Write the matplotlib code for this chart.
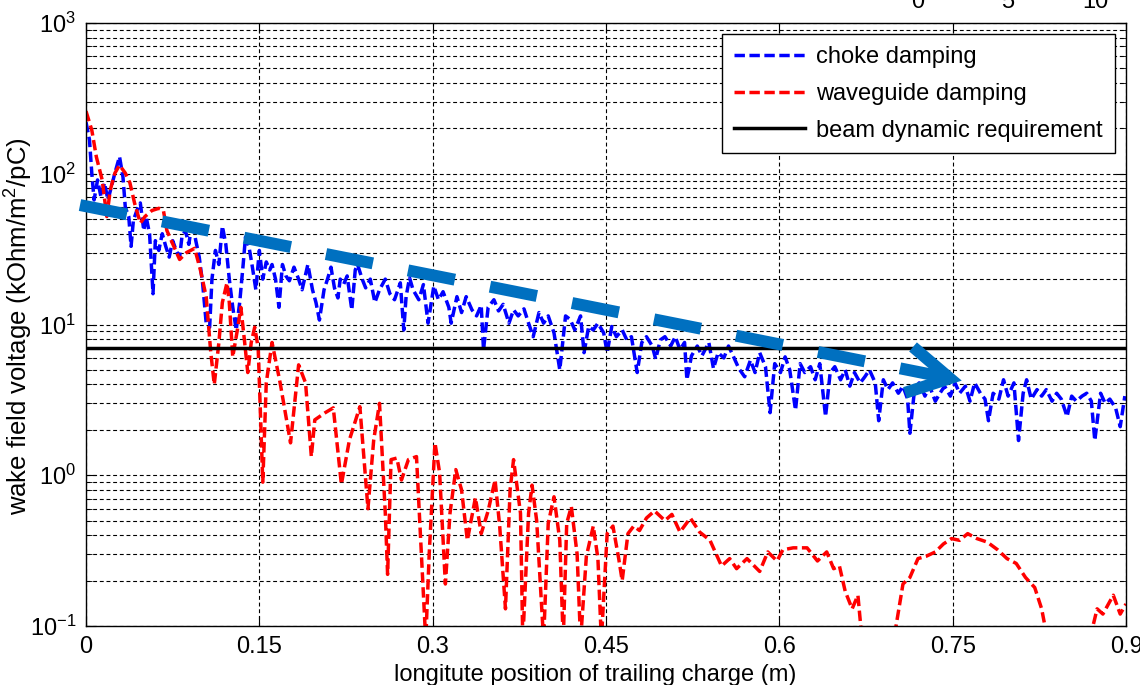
import matplotlib
matplotlib.use("Agg")
import matplotlib.pyplot as plt
from matplotlib.ticker import FixedLocator, LogLocator, NullFormatter

plt.rcParams['font.family'] = ['Liberation Sans', 'DejaVu Sans']
plt.rcParams['mathtext.fontset'] = 'custom'
plt.rcParams['mathtext.rm'] = 'Liberation Sans'
plt.rcParams['axes.unicode_minus'] = False

# choke damping (blue)
x_choke = [0.000, 0.003, 0.005, 0.007, 0.010, 0.013, 0.016, 0.019, 0.022, 0.025,
           0.029, 0.032, 0.034, 0.037, 0.039, 0.041, 0.044, 0.047, 0.050, 0.052,
           0.055, 0.058, 0.060, 0.063, 0.066, 0.069, 0.072, 0.075, 0.078, 0.081,
           0.083, 0.086, 0.089, 0.092, 0.095, 0.098, 0.101, 0.104, 0.107, 0.109,
           0.112, 0.115, 0.118, 0.121, 0.124, 0.127, 0.130, 0.133, 0.136, 0.138,
           0.141, 0.144, 0.147, 0.150, 0.153, 0.156, 0.159, 0.161, 0.164, 0.167,
           0.170, 0.173, 0.176, 0.180, 0.184, 0.187, 0.192, 0.196, 0.199, 0.202,
           0.206, 0.209, 0.212, 0.215, 0.218, 0.220, 0.223, 0.226, 0.230, 0.233,
           0.235, 0.239, 0.242, 0.246, 0.250, 0.254, 0.259, 0.263, 0.267, 0.272,
           0.275, 0.277, 0.280, 0.283, 0.288, 0.292, 0.296, 0.301, 0.305, 0.309,
           0.314, 0.316, 0.321, 0.325, 0.329, 0.334, 0.338, 0.342, 0.344, 0.348,
           0.353, 0.357, 0.361, 0.366, 0.370, 0.374, 0.379, 0.383, 0.387, 0.392,
           0.396, 0.400, 0.405, 0.410, 0.415, 0.419, 0.423, 0.428, 0.431, 0.435,
           0.439, 0.443, 0.448, 0.451, 0.455, 0.459, 0.464, 0.468, 0.472, 0.477,
           0.481, 0.485, 0.490, 0.493, 0.497, 0.501, 0.506, 0.510, 0.514, 0.518,
           0.520, 0.524, 0.529, 0.533, 0.539, 0.543, 0.547, 0.552, 0.556, 0.560,
           0.565, 0.570, 0.575, 0.579, 0.583, 0.588, 0.592, 0.596, 0.601, 0.605,
           0.609, 0.614, 0.618, 0.622, 0.627, 0.631, 0.635, 0.640, 0.644, 0.648,
           0.653, 0.657, 0.661, 0.665, 0.670, 0.674, 0.678, 0.683, 0.686, 0.690,
           0.694, 0.698, 0.703, 0.707, 0.711, 0.713, 0.717, 0.721, 0.726, 0.730,
           0.735, 0.739, 0.743, 0.748, 0.752, 0.756, 0.761, 0.765, 0.769, 0.774,
           0.778, 0.781, 0.785, 0.790, 0.794, 0.798, 0.803, 0.807, 0.811, 0.814,
           0.818, 0.823, 0.827, 0.831, 0.836, 0.840, 0.844, 0.849, 0.853, 0.857,
           0.862, 0.866, 0.870, 0.873, 0.878, 0.882, 0.886, 0.891, 0.895, 0.899]
y_choke = [220, 168, 101, 67, 91, 70, 87, 67, 82, 101,
           130, 95, 60, 52, 33, 49, 57, 64, 42, 52,
           40, 16, 36, 31, 40, 33, 28, 36, 31, 28,
           38, 42, 34, 49, 36, 28, 18.5, 10.2, 9.6, 20,
           31, 25, 45, 34, 20, 13, 9.2, 14, 25, 38,
           33, 24, 17, 31, 20, 26, 23, 25, 20, 13,
           25, 21, 19.5, 24, 20, 17, 25, 17, 14, 10.7,
           17, 20, 24, 17.5, 15, 20, 18.5, 21, 12.5, 23,
           25, 20, 17.5, 20, 14, 17, 20, 16, 14.6, 18.9,
           9.2, 15.3, 20.4, 17, 14.6, 18.4, 10.2, 18, 14.6, 16.5,
           13, 10.2, 15.3, 12, 15.3, 12.5, 11.4, 13.4, 6.8, 13,
           14.6, 12.3, 13.6, 10.2, 12.5, 11.4, 12.7, 10.2, 8.3, 12,
           10.2, 11.4, 8.8, 5.0, 11.4, 10.8, 9.2, 11.4, 6.5, 9.7,
           9.2, 10.2, 8.8, 6.5, 9.7, 8.3, 9.2, 7.9, 8.3, 4.8,
           7.6, 8.3, 7.2, 5.9, 7.9, 8.3, 7.2, 8.3, 6.8, 7.6,
           4.3, 6.2, 7.2, 6.2, 7.6, 5.1, 6.5, 6.0, 7.2, 6.2,
           5.1, 4.5, 5.8, 4.8, 6.5, 5.25, 2.6, 5.5, 4.8, 6.1,
           5.0, 2.7, 5.5, 4.8, 5.25, 4.3, 5.5, 2.45, 4.8, 5.25,
           4.3, 5.0, 3.9, 4.8, 4.1, 4.5, 5.0, 4.1, 2.3, 4.3,
           3.7, 4.1, 3.5, 3.9, 3.2, 1.9, 3.7, 4.1, 3.35, 3.9,
           3.1, 3.5, 3.9, 3.35, 4.1, 3.5, 3.9, 3.1, 4.1, 3.5,
           3.2, 2.3, 3.5, 3.2, 4.3, 3.35, 4.1, 1.7, 3.5, 4.3,
           3.2, 3.7, 3.35, 3.7, 3.1, 3.5, 3.2, 2.45, 3.35, 3.1,
           3.35, 3.5, 3.1, 1.7, 3.5, 3.0, 3.2, 2.8, 2.1, 3.35]

# waveguide damping (red)
x_wg = [0.000, 0.005, 0.009, 0.014, 0.018, 0.021, 0.025, 0.029, 0.034, 0.038,
        0.042, 0.047, 0.051, 0.057, 0.063, 0.067, 0.070, 0.076, 0.081, 0.087,
        0.094, 0.099, 0.104, 0.108, 0.111, 0.115, 0.118, 0.122, 0.124, 0.127,
        0.131, 0.134, 0.137, 0.140, 0.143, 0.146, 0.149, 0.153, 0.156, 0.161,
        0.168, 0.177, 0.184, 0.190, 0.195, 0.198, 0.207, 0.214, 0.221, 0.228,
        0.237, 0.244, 0.249, 0.254, 0.259, 0.261, 0.264, 0.269, 0.273, 0.279,
        0.286, 0.291, 0.294, 0.297, 0.302, 0.306, 0.311, 0.315, 0.320, 0.325,
        0.330, 0.337, 0.342, 0.348, 0.354, 0.358, 0.363, 0.367, 0.370, 0.376,
        0.378, 0.383, 0.386, 0.390, 0.396, 0.400, 0.405, 0.410, 0.413, 0.416,
        0.420, 0.425, 0.428, 0.433, 0.439, 0.443, 0.446, 0.451, 0.456, 0.461,
        0.464, 0.469, 0.474, 0.479, 0.485, 0.492, 0.501, 0.507, 0.514, 0.523,
        0.531, 0.540, 0.550, 0.557, 0.563, 0.572, 0.583, 0.590, 0.598, 0.603,
        0.612, 0.624, 0.633, 0.641, 0.647, 0.652, 0.657, 0.663, 0.668, 0.671,
        0.685, 0.700, 0.707, 0.713, 0.720, 0.727, 0.735, 0.742, 0.749, 0.756,
        0.763, 0.771, 0.780, 0.789, 0.797, 0.805, 0.813, 0.821, 0.827, 0.831,
        0.850, 0.870, 0.875, 0.880, 0.889, 0.895, 0.900]
y_wg = [260, 195, 129, 91, 52, 78, 101, 114, 101, 87,
        64, 47, 52, 57, 59, 57, 42, 33, 27, 30,
        32, 23, 15.3, 6.5, 4.0, 7.6, 14, 18.9, 14, 6.1,
        9.2, 13, 8.0, 4.8, 7.6, 9.6, 7.0, 0.9, 4.1, 7.6,
        4.1, 1.64, 5.4, 4.1, 1.33, 2.33, 2.6, 2.8, 0.87, 1.72,
        2.85, 0.6, 1.72, 3.0, 0.56, 0.22, 1.27, 1.3, 0.93, 1.27,
        1.33, 0.23, 0.08, 0.30, 1.64, 1.04, 0.19, 0.56, 1.09, 0.80,
        0.37, 0.71, 0.41, 0.58, 0.93, 0.46, 0.13, 0.80, 1.27, 0.56,
        0.08, 0.56, 0.86, 0.50, 0.08, 0.48, 0.72, 0.37, 0.08, 0.48,
        0.62, 0.30, 0.08, 0.29, 0.46, 0.28, 0.08, 0.41, 0.46, 0.28,
        0.20, 0.41, 0.46, 0.43, 0.52, 0.58, 0.50, 0.55, 0.42, 0.52,
        0.42, 0.37, 0.25, 0.28, 0.24, 0.28, 0.23, 0.31, 0.27, 0.32,
        0.33, 0.33, 0.27, 0.31, 0.24, 0.25, 0.17, 0.13, 0.16, 0.09,
        0.05, 0.09, 0.19, 0.21, 0.28, 0.29, 0.31, 0.35, 0.38, 0.37,
        0.41, 0.38, 0.36, 0.32, 0.28, 0.26, 0.21, 0.18, 0.13, 0.09,
        0.05, 0.09, 0.13, 0.12, 0.16, 0.12, 0.14]

beam_req = 7.0

x_ticks = [0, 0.15, 0.3, 0.45, 0.6, 0.75, 0.9]
x_ticklabels = ["0", "0.15", "0.3", "0.45", "0.6", "0.75", "0.9"]
labels = ["choke damping", "waveguide damping", "beam dynamic requirement"]
top_labels = ["0", "5", "10"]

# hand-drawn trend arrow (data coords)
arrow_start = (-0.0052, 62.0)
arrow_end = (0.7475, 4.4)
arrow_head = [(0.7157, 7.1), (0.7475, 4.4), (0.7087, 3.52)]
arrow_color = "#0070C0"

fig = plt.figure(figsize=(11.4, 6.85), dpi=100)
ax = fig.add_axes([86 / 1140, 1 - 626 / 685, 1040 / 1140, 603 / 685])

dash = dict(dashes=(3.0, 1.3), lw=2.5, dash_capstyle='butt')
ax.plot(x_choke, y_choke, color='blue', label=labels[0], **dash)
ax.plot(x_wg, y_wg, color='red', label=labels[1], **dash)
ax.axhline(beam_req, color='black', lw=2.5, label=labels[2])

ax.set_yscale('log')
ax.set_xlim(0, 0.9)
ax.set_ylim(0.1, 1000)
ax.xaxis.set_major_locator(FixedLocator(x_ticks))
ax.set_xticklabels(x_ticklabels)
ax.yaxis.set_major_locator(LogLocator(base=10))
ax.yaxis.set_minor_locator(LogLocator(base=10, subs=range(2, 10)))
ax.yaxis.set_minor_formatter(NullFormatter())

ax.grid(True, which='both', axis='y', color='black', lw=0.8, linestyle=(0, (3.5, 2.5)))
ax.grid(True, which='major', axis='x', color='black', lw=0.8, linestyle=(0, (3.5, 2.5)))
ax.tick_params(which='both', direction='in', top=True, right=True, labelsize=17, pad=7)
ax.tick_params(which='major', length=7)
ax.tick_params(which='minor', length=4)
for s in ax.spines.values():
    s.set_linewidth(1.0)

fig.text(595 / 1140, 1 - 664 / 685, "longitute position of trailing charge (m)",
         fontsize=17, ha='center', va='top')
fig.text(18 / 1140, 1 - 326 / 685, "wake field voltage (kOhm/m$^2$/pC)",
         fontsize=18.5, ha='center', va='center', rotation=90)

leg = ax.legend(loc='upper right', fontsize=17, fancybox=False, framealpha=1,
                edgecolor='black', handlelength=3.0, handletextpad=0.5,
                labelspacing=0.63, borderpad=0.5, borderaxespad=0.47)
leg.get_frame().set_linewidth(1.0)

# trend arrow overlay
ax.plot([arrow_start[0], arrow_end[0]], [arrow_start[1], arrow_end[1]],
        color=arrow_color, lw=8.6, dashes=(4.0, 3.0), dash_capstyle='butt',
        clip_on=False, zorder=5)
hx, hy = zip(*arrow_head)
ax.plot(hx, hy, color=arrow_color, lw=8.6, solid_joinstyle='miter',
        solid_capstyle='butt', clip_on=False, zorder=5)

# cut-off labels of another axis at the very top
for xp, t in zip([918, 1008, 1095], top_labels):
    fig.text(xp / 1140, 1 - 8 / 685, t, fontsize=17, ha='center', va='baseline')

fig.savefig("out.png", dpi=100)
